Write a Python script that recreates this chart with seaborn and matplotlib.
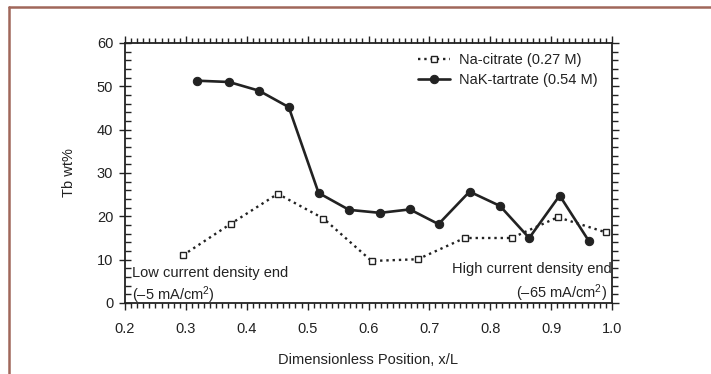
import matplotlib
matplotlib.use("Agg")
import matplotlib.pyplot as plt
from matplotlib.lines import Line2D
from matplotlib.ticker import MultipleLocator
import seaborn as sns
import pandas as pd

# ---- data ----
citrate_x = [0.295, 0.374, 0.451, 0.526, 0.605, 0.681, 0.758, 0.835, 0.911, 0.990]
citrate_y = [11.0, 18.3, 25.2, 19.5, 9.7, 10.1, 15.0, 15.0, 19.8, 16.3]
tartrate_x = [0.319, 0.371, 0.420, 0.469, 0.518, 0.568, 0.619, 0.668, 0.715,
              0.766, 0.816, 0.864, 0.914, 0.962]
tartrate_y = [51.3, 51.0, 49.0, 45.2, 25.4, 21.5, 20.8, 21.6, 18.2,
              25.7, 22.4, 15.0, 24.8, 14.3]
citrate_label = "Na-citrate (0.27 M)"
tartrate_label = "NaK-tartrate (0.54 M)"
xlabel = "Dimensionless Position, x/L"
ylabel = "Tb wt%"
xticks = [0.2, 0.3, 0.4, 0.5, 0.6, 0.7, 0.8, 0.9, 1.0]
yticks = [0, 10, 20, 30, 40, 50, 60]

sns.set_theme(style="ticks")
plt.rcParams['font.family'] = ['Liberation Sans', 'DejaVu Sans']
plt.rcParams['mathtext.fontset'] = 'custom'
plt.rcParams['mathtext.rm'] = 'Liberation Sans'
plt.rcParams['mathtext.it'] = 'Liberation Sans'
ink = "#222222"

fig = plt.figure(figsize=(7.11, 3.74), dpi=100)
ax = fig.add_axes([125/711, 1-303/374, 487/711, 260/374])

df_c = pd.DataFrame({"x": citrate_x, "y": citrate_y})
df_t = pd.DataFrame({"x": tartrate_x, "y": tartrate_y})

sns.lineplot(data=df_c, x="x", y="y", ax=ax, color=ink, linestyle=":", linewidth=1.7,
             marker="s", markersize=5, markerfacecolor="white", markeredgecolor=ink,
             markeredgewidth=1.0, label=citrate_label)
sns.lineplot(data=df_t, x="x", y="y", ax=ax, color=ink, linestyle="-", linewidth=1.9,
             marker="o", markersize=6, markerfacecolor=ink, markeredgecolor=ink,
             label=tartrate_label)

ax.set_xlim(0.2, 1.0)
ax.set_ylim(0, 60)
ax.set_xticks(xticks)
ax.set_xticklabels([f"{v:.1f}" for v in xticks])
ax.set_yticks(yticks)
ax.xaxis.set_minor_locator(MultipleLocator(0.01))
ax.yaxis.set_minor_locator(MultipleLocator(2))

for s in ax.spines.values():
    s.set_color(ink)
    s.set_linewidth(1.3)

ax.tick_params(axis="both", which="both", colors=ink, labelcolor=ink, width=1.0,
               top=True, right=False, labelsize=10.5)
ax.tick_params(axis="x", which="major", direction="out", length=5, pad=9)
ax.tick_params(axis="x", which="minor", direction="out", length=3.5)
ax.tick_params(axis="y", which="major", direction="inout", length=9, pad=4)
ax.tick_params(axis="y", which="minor", direction="in", length=4)

# right-side ticks point outward
axr = ax.twinx()
axr.set_ylim(0, 60)
axr.set_yticks(yticks)
axr.yaxis.set_minor_locator(MultipleLocator(2))
axr.tick_params(axis="y", which="both", direction="out", colors=ink, width=1.0,
                labelright=False, left=False, right=True)
axr.tick_params(axis="y", which="major", length=5)
axr.tick_params(axis="y", which="minor", length=4)
for s in axr.spines.values():
    s.set_visible(False)

ax.set_xlabel(xlabel, fontsize=10.5, color=ink, labelpad=12)
ax.set_ylabel(ylabel, fontsize=10.5, color=ink, labelpad=15)

leg = ax.legend(loc="upper left", bbox_to_anchor=(0.59, 0.985), frameon=False,
                fontsize=10.5, handlelength=2.2, handletextpad=0.6, labelspacing=0.45,
                borderaxespad=0)
for t in leg.get_texts():
    t.set_color(ink)

ax.text(0.014, 0.115, "Low current density end", transform=ax.transAxes,
        fontsize=10.5, color=ink, ha="left", va="center")
ax.text(0.014, 0.031, "(–5 mA/cm$^2$)", transform=ax.transAxes,
        fontsize=10.5, color=ink, ha="left", va="center")
ax.text(1.0, 0.131, "High current density end", transform=ax.transAxes,
        fontsize=10.5, color=ink, ha="right", va="center")
ax.text(0.99, 0.038, "(–65 mA/cm$^2$)", transform=ax.transAxes,
        fontsize=10.5, color=ink, ha="right", va="center")

frame_col = "#a0675a"
fig.add_artist(Line2D([9/711, 9/711], [0, 1-7/374], transform=fig.transFigure,
                      color=frame_col, linewidth=1.8))
fig.add_artist(Line2D([9/711, 1], [1-7/374, 1-7/374], transform=fig.transFigure,
                      color=frame_col, linewidth=1.8))

fig.savefig("out.png", dpi=100)
